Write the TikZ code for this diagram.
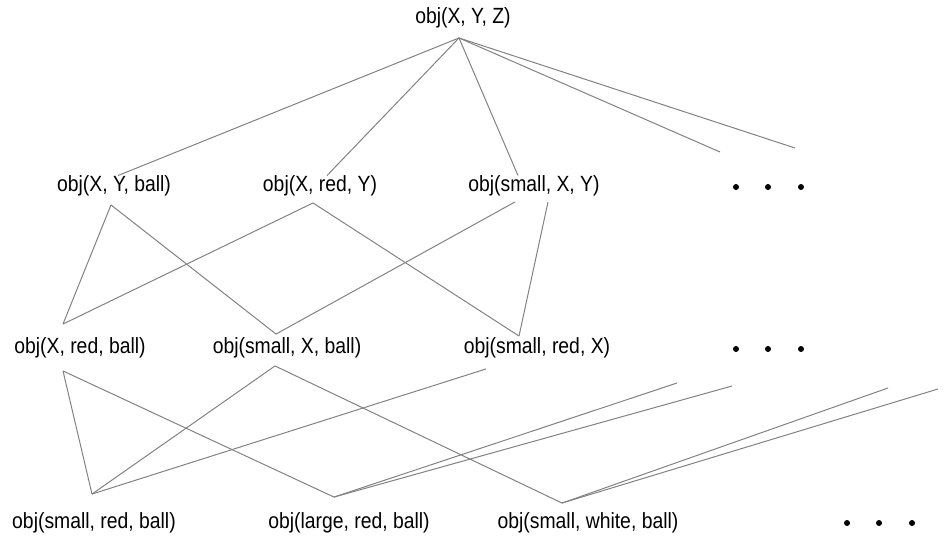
\documentclass[tikz,border=0pt]{standalone}
\usepackage{fontspec}
\setmainfont{Liberation Sans}[FakeStretch=0.88]
\definecolor{edgegray}{RGB}{130,130,130}

\begin{document}
\begin{tikzpicture}[x=1pt, y=-1pt,
    term/.style={inner sep=0pt, font=\fontsize{22}{24}\selectfont},
    link/.style={edgegray, line width=1pt},
    dot/.style={circle, fill=black, inner sep=0pt, minimum size=6pt}]
    \useasboundingbox (0,0) rectangle (952,552);

    % Most general term
    \node[term] (top) at (463,18) {obj(X, Y, Z)};

    % First level
    \node[term] (xyball) at (114,186) {obj(X, Y, ball)};
    \node[term] (xredy) at (320,186) {obj(X, red, Y)};
    \node[term] (smallxy) at (534,186) {obj(small, X, Y)};

    % Second level
    \node[term] (xredball) at (80,348) {obj(X, red, ball)};
    \node[term] (smallxball) at (287,348) {obj(small, X, ball)};
    \node[term] (smallredx) at (537,348) {obj(small, red, X)};

    % Ground terms
    \node[term] (smallredball) at (94,523) {obj(small, red, ball)};
    \node[term] (largeredball) at (349,523) {obj(large, red, ball)};
    \node[term] (smallwhiteball) at (588,523) {obj(small, white, ball)};

    % Omitted terms
    \foreach \x [count=\i] in {736,768,801} {
        \node[dot] (dota\i) at (\x,187) {};
        \node[dot] (dotb\i) at (\x,349) {};
    }
    \foreach \x [count=\i] in {847,879,912}
        \node[dot] (dotc\i) at (\x,523) {};

    % Loose ends towards the omitted terms
    \coordinate (topfreea) at (720,152);
    \coordinate (topfreeb) at (795,148);
    \coordinate (largefreea) at (677,383);
    \coordinate (largefreeb) at (732,386);
    \coordinate (whitefreea) at (888,388);
    \coordinate (whitefreeb) at (938,389);

    % Top to first level
    \draw[link] ([xshift=-4,yshift=-9.5]top.south) -- ([xshift=4]xyball.north);
    \draw[link] ([xshift=-4,yshift=-9.5]top.south) -- ([xshift=7]xredy.north);
    \draw[link] ([xshift=-4,yshift=-9.5]top.south) -- ([xshift=-16]smallxy.north);
    \draw[link] ([xshift=-4,yshift=-9.5]top.south) -- (topfreea);
    \draw[link] ([xshift=-4,yshift=-9.5]top.south) -- (topfreeb);

    % First to second level
    \draw[link] ([xshift=-3,yshift=-8.5]xyball.south) -- ([xshift=-17,yshift=13.5]xredball.north);
    \draw[link] ([xshift=-3,yshift=-8.5]xyball.south) -- ([xshift=-11,yshift=3.5]smallxball.north);
    \draw[link] ([xshift=-7,yshift=-6.5]xredy.south) -- ([xshift=-17,yshift=13.5]xredball.north);
    \draw[link] ([xshift=-7,yshift=-6.5]xredy.south) -- ([xshift=-18,yshift=1.5]smallredx.north);
    \draw[link] ([xshift=-19,yshift=-5.5]smallxy.south) -- ([xshift=-11,yshift=3.5]smallxball.north);
    \draw[link] ([xshift=14,yshift=-5.5]smallxy.south) -- ([xshift=-18,yshift=1.5]smallredx.north);

    % Second level to ground terms
    \draw[link] ([xshift=-17,yshift=-12.5]xredball.south) -- ([xshift=-2,yshift=18.5]smallredball.north);
    \draw[link] ([xshift=-17,yshift=-12.5]xredball.south) -- ([xshift=-15,yshift=15.5]largeredball.north);
    \draw[link] ([xshift=-12,yshift=-7.5]smallxball.south) -- ([xshift=-2,yshift=18.5]smallredball.north);
    \draw[link] ([xshift=-12,yshift=-7.5]smallxball.south) -- ([xshift=-26,yshift=9.5]smallwhiteball.north);
    \draw[link] ([xshift=-51,yshift=-10.5]smallredx.south) -- ([xshift=-2,yshift=18.5]smallredball.north);
    \draw[link] ([xshift=-15,yshift=15.5]largeredball.north) -- (largefreea);
    \draw[link] ([xshift=-15,yshift=15.5]largeredball.north) -- (largefreeb);
    \draw[link] ([xshift=-26,yshift=9.5]smallwhiteball.north) -- (whitefreea);
    \draw[link] ([xshift=-26,yshift=9.5]smallwhiteball.north) -- (whitefreeb);
\end{tikzpicture}
\end{document}
